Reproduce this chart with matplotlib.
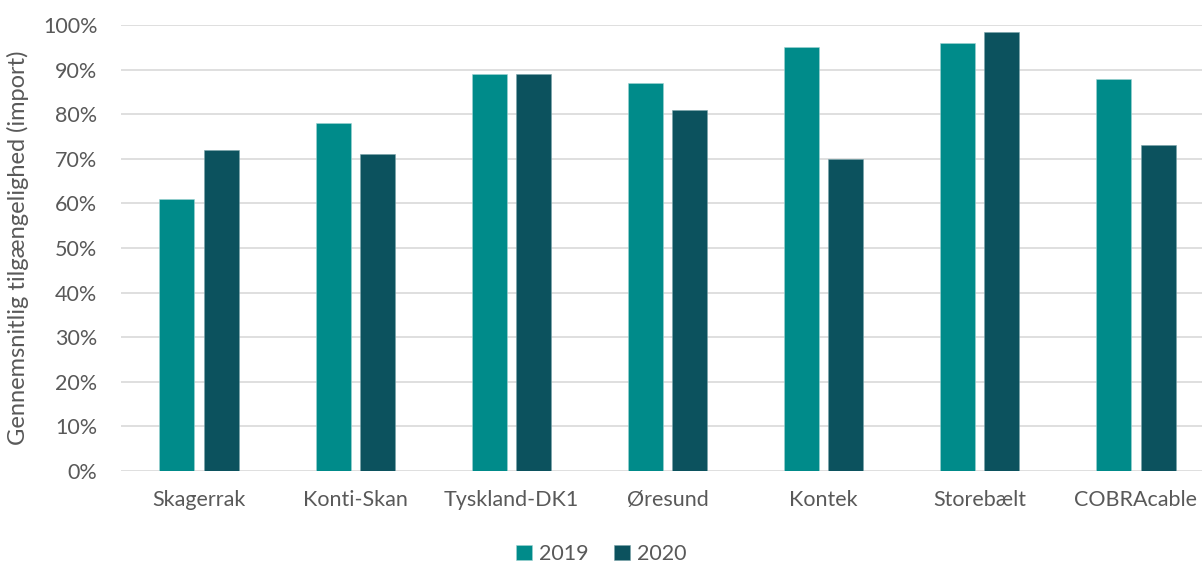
import numpy as np
import matplotlib.pyplot as plt
from matplotlib.ticker import PercentFormatter

# Data
categories = ['Skagerrak', 'Konti-Skan', 'Tyskland-DK1', 'Øresund', 'Kontek', 'Storebælt', 'COBRAcable']
years = ['2019', '2020']
avail_2019 = [61, 78, 89, 87, 95, 96, 88]
avail_2020 = [72, 71, 89, 81, 70, 98.5, 73]

c2019 = '#008B8A'
c2020 = '#0C525E'
txt = '#595959'

plt.rcParams['font.family'] = ['Lato', 'DejaVu Sans']

fig = plt.figure(figsize=(12.02, 5.62), dpi=100)
ax = fig.add_axes([121 / 1202, 91 / 562, 1093 / 1202, 446 / 562])

x = np.arange(len(categories))
w = 0.224
ax.bar(x - 0.142, avail_2019, w, color=c2019, label=years[0], zorder=3,
       edgecolor='#9fd3d2', linewidth=0.4)
ax.bar(x + 0.142, avail_2020, w, color=c2020, label=years[1], zorder=3,
       edgecolor='#7aa3aa', linewidth=0.4)

ax.set_xlim(-0.5, len(categories) - 0.5)
ax.set_ylim(0, 100)
ax.set_yticks(np.arange(0, 101, 10))
ax.yaxis.set_major_formatter(PercentFormatter(decimals=0))
ax.set_xticks(x)
ax.set_xticklabels(categories)

ax.grid(axis='y', color='#d9d9d9', linewidth=1.2, zorder=0)
for s in ax.spines.values():
    s.set_visible(False)
ax.tick_params(axis='both', length=0, labelsize=15.5, colors=txt)
ax.tick_params(axis='x', pad=14)
ax.tick_params(axis='y', pad=17)

ax.set_ylabel('Gennemsnitlig tilgængelighed (import)', fontsize=17, color=txt, labelpad=10)

fig.legend(loc='center', bbox_to_anchor=(0.5, 8 / 562), ncol=2, frameon=False,
           fontsize=15.5, labelcolor=txt, handlelength=0.75, handleheight=0.75,
           handletextpad=0.3, columnspacing=1.2)

fig.savefig('out.png', dpi=100)
